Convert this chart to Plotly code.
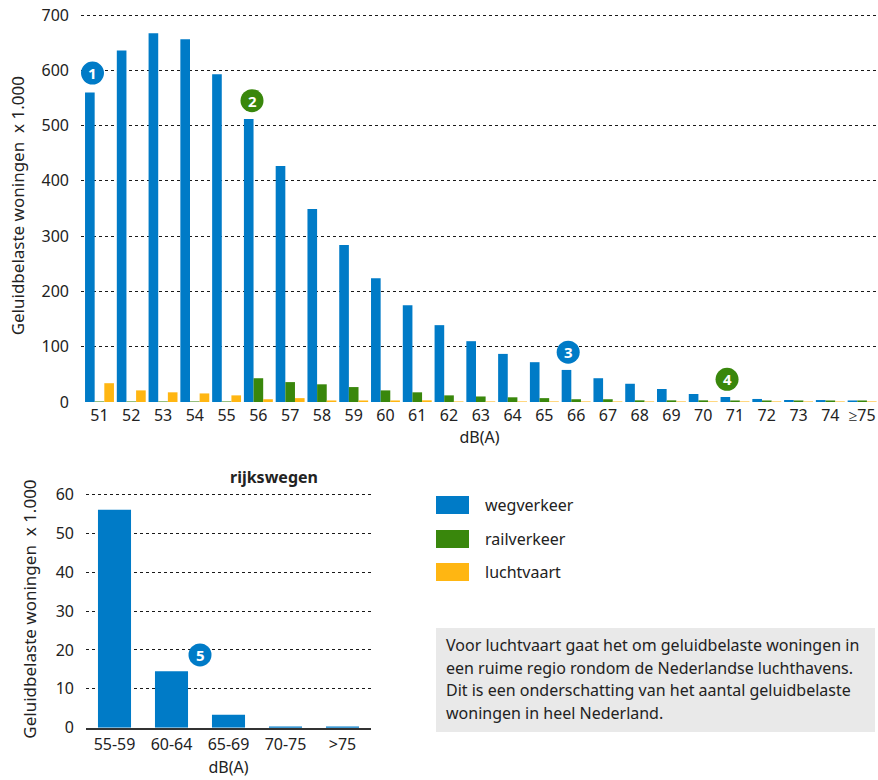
import plotly.graph_objects as go

# ---------------- data ----------------
categories = ["51", "52", "53", "54", "55", "56", "57", "58", "59", "60", "61", "62", "63",
              "64", "65", "66", "67", "68", "69", "70", "71", "72", "73", "74", "≥75"]
wegverkeer = [560, 636, 667, 656, 593, 512, 427, 349, 284, 224, 175, 139, 110,
              87, 72, 58, 43, 33, 23.5, 14.5, 9, 5.5, 3.6, 3.5, 2]
railverkeer = [0.6, 0.6, 0.6, 0.6, 0.6, 43, 36, 32, 27, 21, 17.5, 12, 10,
               8.5, 7, 5, 5, 3, 3, 3, 1.5, 1.5, 1, 1, 1]
luchtvaart = [34, 21, 17.5, 15.5, 12, 5, 7, 1.5, 1.5, 1.5, 3, 0.5, 0.5,
              0.5, 0.5, 0.5, 0.5, 0.5, 0.5, 0.5, 0.5, 0.5, 0.5, 0.5, 0.5]

rijks_categories = ["55-59", "60-64", "65-69", "70-75", ">75"]
rijks_values = [56, 14.5, 3.3, 0.3, 0.1]

series_names = ["wegverkeer", "railverkeer", "luchtvaart"]
note_lines = ["Voor luchtvaart gaat het om geluidbelaste woningen in",
              "een ruime regio rondom de Nederlandse luchthavens.",
              "Dit is een onderschatting van het aantal geluidbelaste",
              "woningen in heel Nederland."]

# numbered markers: (label, axis, category index, value, colour key)
markers = [("1", 1, -0.22, 595, "blue"), ("2", 1, 4.8, 545, "green"),
           ("3", 1, 14.75, 90, "blue"), ("4", 1, 19.75, 41, "green"),
           ("5", 2, 1.5, 18.7, "blue")]

# ---------------- style ----------------
BLUE = "#007BC7"
GREEN = "#39870C"
YELLOW = "#FFB612"
COLORS = {"blue": BLUE, "green": GREEN}
FONT = "Noto Sans"
TXT = "#222222"
FS = 16
W, H = 878, 780

fig = go.Figure()
for name, vals, col in zip(series_names, [wegverkeer, railverkeer, luchtvaart], [BLUE, GREEN, YELLOW]):
    fig.add_trace(go.Bar(x=categories, y=vals, name=name, marker_color=col,
                         marker_line_width=0, xaxis="x", yaxis="y", showlegend=False))

fig.add_trace(go.Bar(x=rijks_categories, y=rijks_values, marker_color=BLUE, width=0.58,
                     marker_line_width=0, xaxis="x2", yaxis="y2", showlegend=False))

grid = dict(showgrid=True, gridcolor="#1a1a1a", gridwidth=1.2, griddash="3px,3px")
tickf = dict(family=FONT, size=FS, color=TXT)
titf = dict(family=FONT, size=FS, color=TXT)
ytitf = dict(family=FONT, size=17, color=TXT)


def px_x(p):
    return p / W


def px_y(p):
    return 1 - p / H


# top chart: 0 at y=402px, 700 at y=15px -> 710 at ~9.5px
# bottom chart: 0 at y=727.7px, 60 at y=494.3px -> 61 at ~490.4px
fig.update_layout(
    width=W, height=H,
    margin=dict(l=0, r=0, t=0, b=0, autoexpand=False),
    paper_bgcolor="white", plot_bgcolor="white",
    barmode="group", bargap=0.09, bargroupgap=0,
    font=dict(family=FONT, color=TXT),
    xaxis=dict(domain=[px_x(81), 1.0], anchor="y", type="category", automargin=False,
               tickfont=tickf, showgrid=False, ticks="", ticklabelstandoff=2,
               ticklabeloverflow="allow",
               title=dict(text="dB(A)", font=titf, standoff=6)),
    yaxis=dict(domain=[px_y(402), px_y(9.47)], anchor="x", range=[0, 710], automargin=False,
               tickvals=[0, 100, 200, 300, 400, 500, 600, 700],
               tickfont=tickf, ticks="", ticklabelstandoff=11, zeroline=False,
               ticklabeloverflow="allow",
               title=dict(text="Geluidbelaste woningen  x 1.000", font=ytitf, standoff=12),
               **grid),
    xaxis2=dict(domain=[px_x(86), px_x(371)], anchor="y2", type="category", automargin=False,
                tickfont=tickf, showgrid=False, ticks="", ticklabelstandoff=1,
                showline=True, linecolor="#333333", linewidth=1.5,
                title=dict(text="dB(A)", font=titf, standoff=8)),
    yaxis2=dict(domain=[px_y(727.7), px_y(490.4)], anchor="x2", range=[0, 61], automargin=False,
                tickvals=[0, 10, 20, 30, 40, 50, 60],
                tickfont=tickf, ticks="", ticklabelstandoff=11, zeroline=False,
                title=dict(text="Geluidbelaste woningen  x 1.000", font=ytitf, standoff=14),
                **grid),
)

shapes = []
annotations = []

# subplot title
annotations.append(dict(text="<b>rijkswegen</b>", x=px_x(228), y=px_y(477), xref="paper", yref="paper",
                        showarrow=False, font=dict(family=FONT, size=FS, color=TXT)))

# numbered circles
for lab, ax, xi, yv, ck in markers:
    xr = "x" if ax == 1 else "x2"
    yr = "y" if ax == 1 else "y2"
    shapes.append(dict(type="circle", xref=xr, yref=yr, xsizemode="pixel", ysizemode="pixel",
                       xanchor=xi, yanchor=yv, x0=-11.5, x1=11.5, y0=-11.5, y1=11.5,
                       fillcolor=COLORS[ck], line=dict(width=0), layer="above"))
    annotations.append(dict(text="<b>%s</b>" % lab, x=xi, y=yv, xref=xr, yref=yr, showarrow=False,
                            font=dict(family=FONT, size=15, color="white")))

# legend
leg_y = [505, 539, 572]
for name, col, yy in zip(series_names, [BLUE, GREEN, YELLOW], leg_y):
    shapes.append(dict(type="rect", xref="paper", yref="paper",
                       x0=px_x(436), x1=px_x(469), y0=px_y(yy + 9), y1=px_y(yy - 9),
                       fillcolor=col, line=dict(width=0)))
    annotations.append(dict(text=name, x=px_x(483), y=px_y(yy), xref="paper", yref="paper",
                            xanchor="left", yanchor="middle", showarrow=False,
                            font=dict(family=FONT, size=FS, color=TXT)))

# note box
shapes.append(dict(type="rect", xref="paper", yref="paper",
                   x0=px_x(436), x1=px_x(875), y0=px_y(732), y1=px_y(628),
                   fillcolor="#E9E9E9", line=dict(width=0), layer="below"))
for i, line in enumerate(note_lines):
    annotations.append(dict(text=line, x=px_x(444), y=px_y(645 + i * 22.5), xref="paper", yref="paper",
                            xanchor="left", yanchor="middle", showarrow=False,
                            font=dict(family=FONT, size=FS, color=TXT)))

fig.update_layout(shapes=shapes, annotations=annotations)

fig.write_html("out.html",
               config={"displayModeBar": False},
               post_script="document.body.style.margin='0';document.body.style.padding='0';"
                           "document.body.style.overflow='hidden';")
